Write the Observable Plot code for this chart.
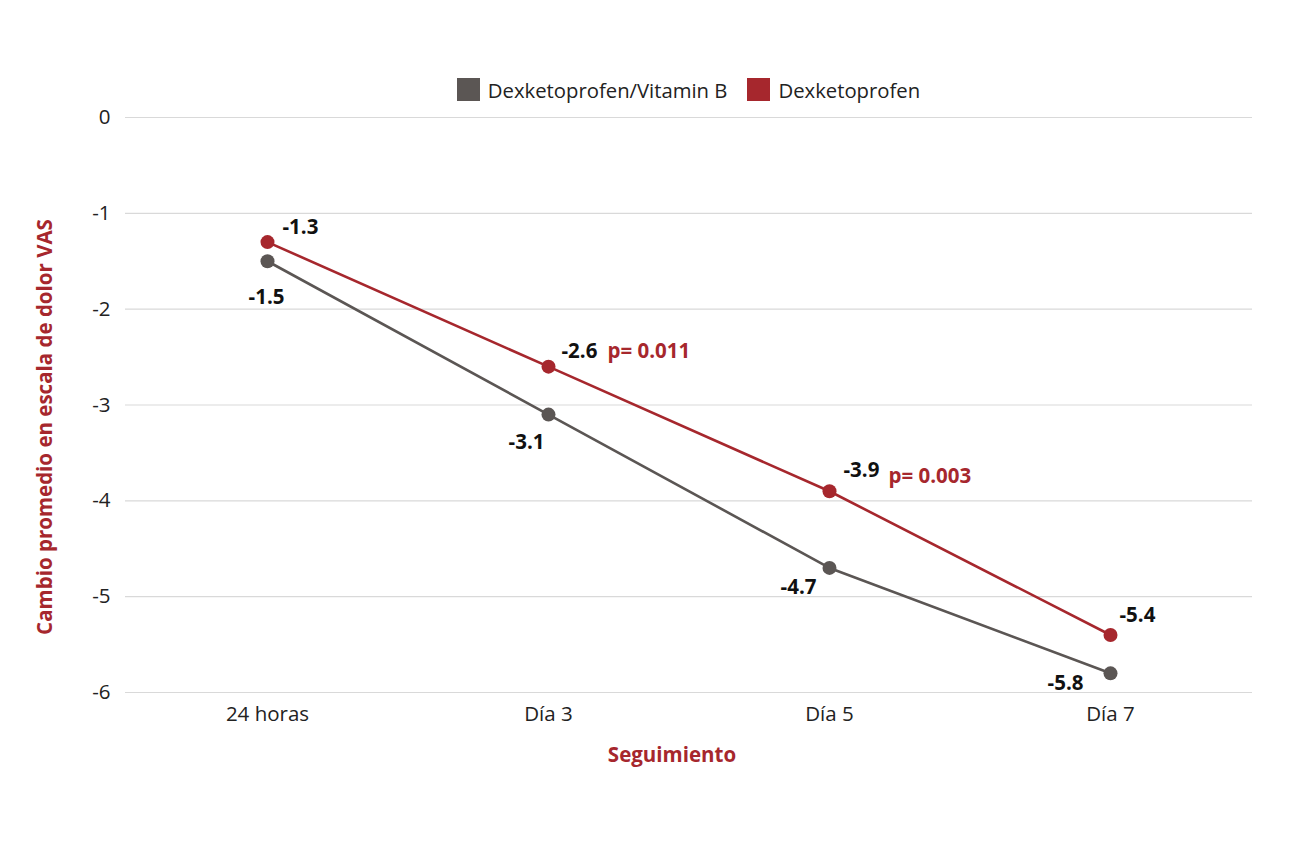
<!DOCTYPE html>
<html>
<head>
<meta charset="utf-8">
<script src="https://cdn.jsdelivr.net/npm/d3@7"></script>
<script src="https://cdn.jsdelivr.net/npm/@observablehq/plot@0.6"></script>
<style>
  html, body { margin: 0; padding: 0; background: #fff; font-family: "Open Sans", sans-serif; }
  #legend { height: 100px; box-sizing: border-box; padding-top: 79px; margin-left: 125px; width: 1127px;
            display: flex; justify-content: center; align-items: center; gap: 0; font-size: 20.3px; color: #222; }
  .item { display: flex; align-items: center; margin: 0 10px; }
  .sw { width: 23px; height: 23px; margin-right: 8px; }
  #chart svg { display: block; overflow: visible; }
</style>
</head>
<body>
<div id="legend"></div>
<div id="chart"></div>
<script>
const categories = ["24 horas", "Día 3", "Día 5", "Día 7"];
const seriesNames = ["Dexketoprofen/Vitamin B", "Dexketoprofen"];
const vitaminB = [-1.5, -3.1, -4.7, -5.8];
const dexketo = [-1.3, -2.6, -3.9, -5.4];
const pValues = [null, "p= 0.011", "p= 0.003", null];
const yTicks = [0, -1, -2, -3, -4, -5, -6];
const colors = ["#5b5654", "#a6272d"];

// label offsets (styling only)
const grayLabelOffsets = [[17, 36], [-4, 28], [-13, 20], [-27, 10]];
const redLabelOffsets = [[15, -15], [13, -15], [14, -21], [9, -20]];

const rows = [];
categories.forEach((c, i) => rows.push({cat: c, v: vitaminB[i], s: seriesNames[0], i}));
categories.forEach((c, i) => rows.push({cat: c, v: dexketo[i], s: seriesNames[1], i, p: pValues[i]}));
const grayRows = rows.filter(d => d.s === seriesNames[0]);
const redRows = rows.filter(d => d.s === seriesNames[1]);

const legend = document.getElementById("legend");
seriesNames.forEach((n, k) => {
  const it = document.createElement("div");
  it.className = "item";
  it.innerHTML = `<span class="sw" style="background:${colors[k]}"></span><span>${n}</span>`;
  legend.appendChild(it);
});

const font = "Open Sans";
const fs = 20.5;
const marks = [
  Plot.ruleY(yTicks, {stroke: "#d9d9d9", strokeWidth: 1.2}),
  Plot.axisY({ticks: yTicks, tickSize: 0, tickPadding: 15, fontSize: fs, fill: "#222", label: null, tickFormat: d => String(d)}),
  Plot.axisX({tickSize: 0, tickPadding: 14, fontSize: fs, fill: "#222", label: null}),
  Plot.text(["Cambio promedio en escala de dolor VAS"], {frameAnchor: "left", textAnchor: "middle", rotate: -90, dx: -80, dy: 22, fontSize: fs, fontWeight: "bold", fill: "#a6272d"}),
  Plot.text(["Seguimiento"], {frameAnchor: "bottom", textAnchor: "middle", dx: -17, dy: 69, fontSize: fs, fontWeight: "bold", fill: "#a6272d"}),
  Plot.line(grayRows, {x: "cat", y: "v", stroke: colors[0], strokeWidth: 2.6}),
  Plot.line(redRows, {x: "cat", y: "v", stroke: colors[1], strokeWidth: 2.6}),
  Plot.dot(grayRows, {x: "cat", y: "v", r: 7, fill: colors[0]}),
  Plot.dot(redRows, {x: "cat", y: "v", r: 7, fill: colors[1]}),
  ...grayRows.map((d, i) => Plot.text([d], {x: "cat", y: "v", text: d => String(d.v), textAnchor: "end", dx: grayLabelOffsets[i][0], dy: grayLabelOffsets[i][1], fontSize: fs, fontWeight: "bold", fill: "#111"})),
  ...redRows.map((d, i) => Plot.text([d], {x: "cat", y: "v", text: d => String(d.v), textAnchor: "start", dx: redLabelOffsets[i][0], dy: redLabelOffsets[i][1], fontSize: fs, fontWeight: "bold", fill: "#111"})),
  Plot.text(redRows.filter(d => d.p), {x: "cat", y: "v", text: "p", textAnchor: "start", dx: 59, dy: -15, fontSize: fs, fontWeight: "bold", fill: "#a6272d"})
];

const chart = Plot.plot({
  width: 1294,
  height: 700,
  marginTop: 17,
  marginBottom: 108,
  marginLeft: 125,
  marginRight: 42,
  style: {fontFamily: font, background: "#fff"},
  x: {type: "point", domain: categories, padding: 0.5},
  y: {domain: [-6, 0]},
  marks
});
document.getElementById("chart").appendChild(chart);
</script>
</body>
</html>
